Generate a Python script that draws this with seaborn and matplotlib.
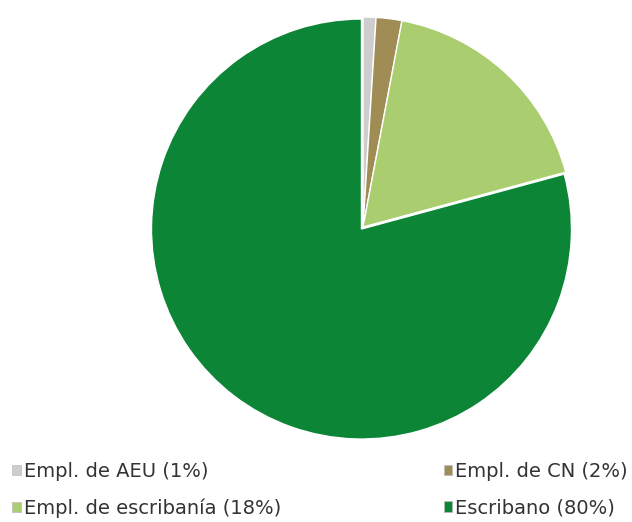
import matplotlib

matplotlib.use("Agg")
import matplotlib.pyplot as plt
import seaborn as sns

labels = ["Empl. de AEU", "Empl. de CN", "Empl. de escribanía", "Escribano"]
shares = [1, 2, 18, 80]
colors = ["#cdcdcd", "#a08c55", "#a9cd6f", "#0c8636"]
explode = [0, 0, 0, 0.012]

sns.set_theme(style="white")
plt.rcParams["font.family"] = ["DejaVu Sans"]

fig = plt.figure(figsize=(6.32, 5.22), dpi=100)
ax = fig.add_axes([0.2421, 0.1628, 0.6646, 0.8046])

wedges, _ = ax.pie(
    shares, colors=colors, startangle=90, counterclock=False,
    explode=explode, radius=1,
    wedgeprops=dict(edgecolor="white", linewidth=1.0),
)
ax.set_xlim(-1.0, 1.0)
ax.set_ylim(-1.0, 1.0)
ax.set_aspect("equal")
ax.axis("off")

legend_labels = [f"{l} ({s}%)" for l, s in zip(labels, shares)]
# column-wise fill: left column AEU/escribania, right column CN/Escribano
order = [0, 2, 1, 3]
leg = fig.legend(
    [wedges[i] for i in order], [legend_labels[i] for i in order],
    ncol=2, mode="expand", loc="lower left",
    bbox_to_anchor=(12 / 632, 4 / 522, 616 / 632, 0.14),
    frameon=False, fontsize=14, handlelength=0.45, handleheight=0.45,
    handletextpad=0.15, labelspacing=0.9, borderaxespad=0, borderpad=0,
    labelcolor="#333333",
)
for h in leg.legend_handles:
    h.set_edgecolor("#bbbbbb")
    h.set_linewidth(0.5)

plt.savefig("out.png", dpi=100)
